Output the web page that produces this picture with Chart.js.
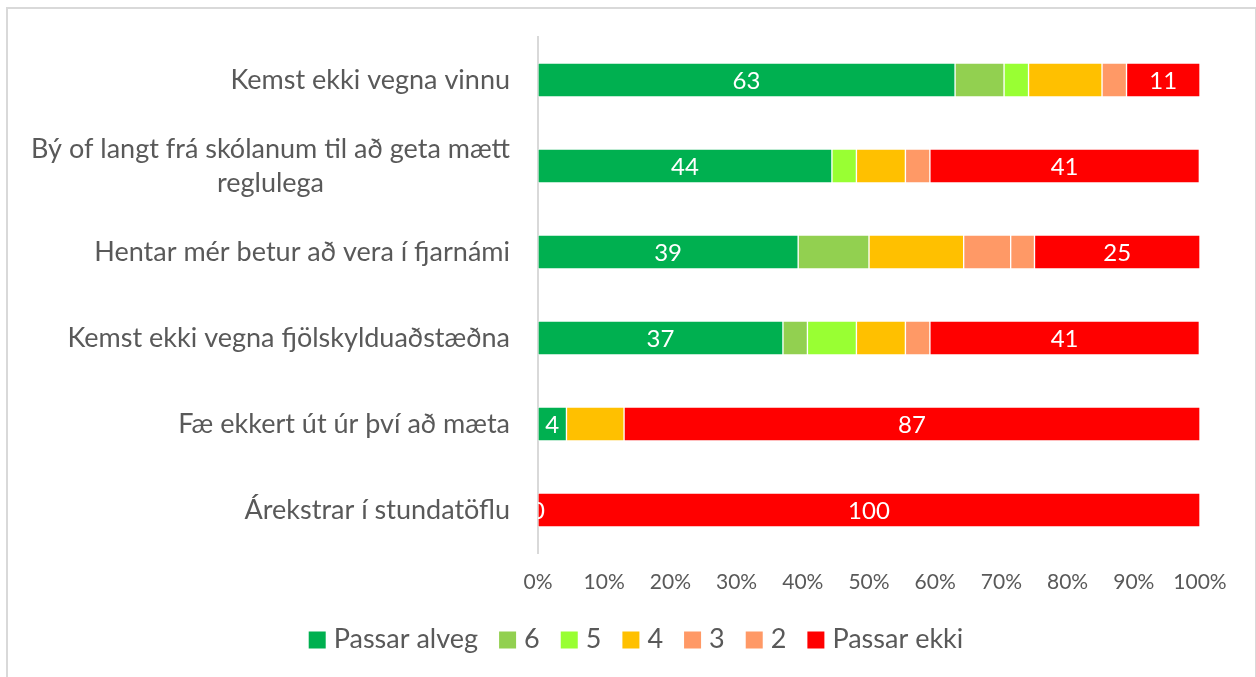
<!DOCTYPE html>
<html>
<head>
<meta charset="utf-8">
<script src="https://cdn.jsdelivr.net/npm/chart.js@4.4.1/dist/chart.umd.min.js"></script>
<style>
  body { margin: 0; background: #fff; }
  #wrap { position: relative; width: 1256px; height: 677px; overflow: hidden; }
  #frame { position: absolute; left: 6px; top: 7px; width: 1247px; height: 700px; border: 2px solid #d9d9d9; pointer-events: none; }
</style>
</head>
<body>
<div id="wrap">
  <canvas id="chart" width="1256" height="677"></canvas>
  <div id="frame"></div>
</div>
<script>
// categories, top to bottom
const categories = [
  ["Kemst ekki vegna vinnu"],
  ["Bý of langt frá skólanum til að geta mætt", "reglulega"],
  ["Hentar mér betur að vera í fjarnámi"],
  ["Kemst ekki vegna fjölskylduaðstæðna"],
  ["Fæ ekkert út úr því að mæta"],
  ["Árekstrar í stundatöflu"]
];

const seriesNames = ["Passar alveg", "6", "5", "4", "3", "2", "Passar ekki"];

// percent of answers per category
const passarAlveg = [63.0, 44.4, 39.3, 37.0, 4.3, 0];
const s6 = [7.4, 0, 10.7, 3.7, 0, 0];
const s5 = [3.7, 3.7, 0, 7.4, 0, 0];
const s4 = [11.1, 7.4, 14.3, 7.4, 8.7, 0];
const s3 = [3.7, 3.7, 7.1, 3.7, 0, 0];
const s2 = [0, 0, 3.6, 0, 0, 0];
const passarEkki = [11.1, 40.7, 25.0, 40.7, 87.0, 100];

const xTicks = [0, 10, 20, 30, 40, 50, 60, 70, 80, 90, 100];

const colors = ["#00B050", "#92D050", "#99FF33", "#FFC000", "#FF9966", "#FF9966", "#FF0000"];
const allSeries = [passarAlveg, s6, s5, s4, s3, s2, passarEkki];

const FONT = 'Lato, "Open Sans", sans-serif';
const GREY = "#595959";

// y axis labels, block right aligned, lines centered
const catLabels = {
  id: "catLabels",
  afterDraw(chart) {
    const ctx = chart.ctx;
    const y = chart.scales.y;
    ctx.save();
    ctx.font = "27px " + FONT;
    ctx.fillStyle = GREY;
    ctx.textAlign = "center";
    ctx.textBaseline = "middle";
    const lh = 34;
    categories.forEach((lines, i) => {
      const cy = y.getPixelForValue(i);
      const w = Math.max(...lines.map(l => ctx.measureText(l).width));
      const cx = chart.chartArea.left - 28 - w / 2;
      lines.forEach((l, j) => {
        ctx.fillText(l, cx, cy + (j - (lines.length - 1) / 2) * lh);
      });
    });
    ctx.restore();
  }
};

// numbers on first and last series
const valueLabels = {
  id: "valueLabels",
  afterDatasetsDraw(chart) {
    const ctx = chart.ctx;
    const a = chart.chartArea;
    ctx.save();
    ctx.beginPath();
    ctx.rect(a.left, a.top, a.right - a.left, a.bottom - a.top);
    ctx.clip();
    ctx.font = "24px " + FONT;
    ctx.fillStyle = "#fff";
    ctx.textAlign = "center";
    ctx.textBaseline = "middle";
    [0, allSeries.length - 1].forEach(di => {
      chart.getDatasetMeta(di).data.forEach((bar, i) => {
        const v = allSeries[di][i];
        ctx.fillText(String(Math.round(v)), (bar.x + bar.base) / 2, bar.y + 1);
      });
    });
    ctx.restore();
  }
};

// legend like excel: small gap box -> text
const excelLegend = {
  id: "excelLegend",
  afterDraw(chart) {
    const ctx = chart.ctx;
    const box = 17, gap = 8, space = 21, cy = 639;
    ctx.save();
    ctx.font = "27px " + FONT;
    ctx.textBaseline = "middle";
    const ds = chart.data.datasets;
    const widths = ds.map(d => box + gap + ctx.measureText(d.label).width);
    const total = widths.reduce((s, w) => s + w, 0) + space * (ds.length - 1);
    let x = 636 - total / 2;
    ds.forEach((d, i) => {
      ctx.fillStyle = d.backgroundColor;
      ctx.fillRect(x, cy - box / 2 + 1, box, box);
      ctx.fillStyle = GREY;
      ctx.textAlign = "left";
      ctx.fillText(d.label, x + box + gap, cy);
      x += widths[i] + space;
    });
    ctx.restore();
  }
};

new Chart(document.getElementById("chart"), {
  type: "bar",
  data: {
    labels: categories.map(c => c.join(" ")),
    datasets: allSeries.map((d, i) => ({
      label: seriesNames[i],
      data: d,
      backgroundColor: colors[i],
      borderColor: "rgba(255,255,255,0.35)",
      borderWidth: 1,
      borderSkipped: false,
      barThickness: 34
    }))
  },
  options: {
    indexAxis: "y",
    responsive: false,
    animation: false,
    layout: { padding: { top: 37, right: 56, bottom: 66, left: 0 } },
    scales: {
      x: {
        stacked: true,
        min: 0,
        max: 100,
        afterBuildTicks: s => { s.ticks = xTicks.map(v => ({ value: v })); },
        afterFit: s => { s.height = 58; },
        grid: { display: false, drawTicks: false },
        border: { display: false },
        ticks: {
          padding: 17,
          color: GREY,
          font: { family: FONT, size: 21 },
          callback: v => v + "%"
        }
      },
      y: {
        stacked: true,
        afterFit: s => { s.width = 538; },
        grid: { display: false, drawTicks: false },
        border: { display: true, color: "#d9d9d9", width: 2 },
        ticks: { display: false }
      }
    },
    plugins: {
      legend: { display: false },
      tooltip: { enabled: false }
    }
  },
  plugins: [catLabels, valueLabels, excelLegend]
});
</script>
</body>
</html>
